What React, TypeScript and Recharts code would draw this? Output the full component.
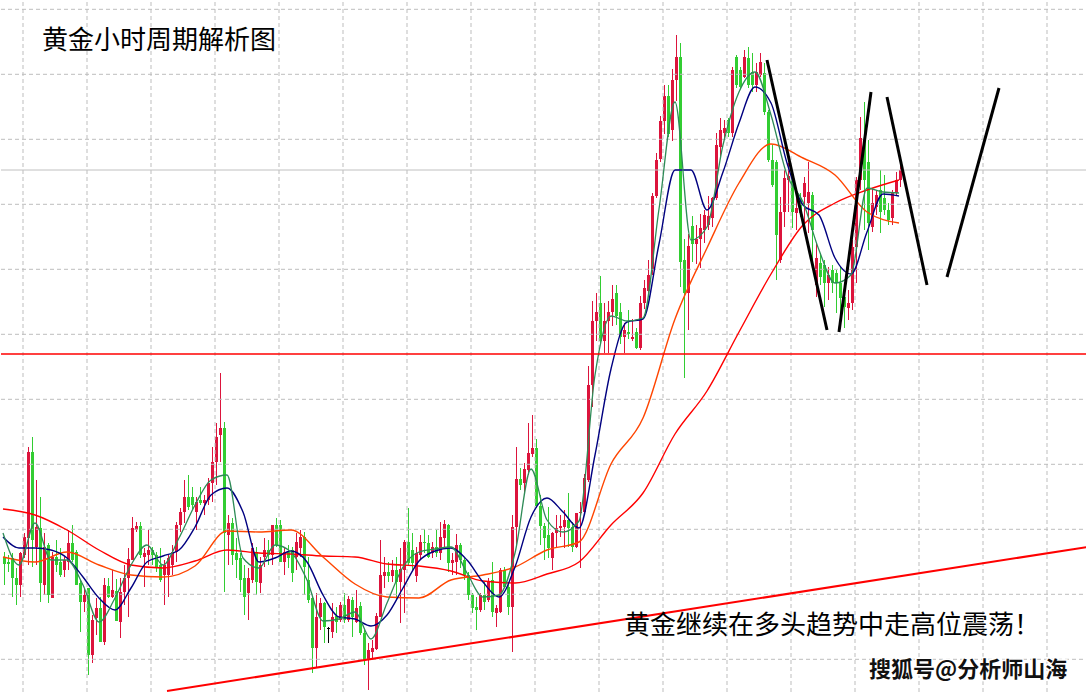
import React from "react";
import { ComposedChart, Bar, Line, XAxis, YAxis, ReferenceLine } from "recharts";

// hourly gold candles (price units, left to right)
const opens = [
  1924.3, 1923.8, 1924.2, 1922.2, 1921.5, 1924.5, 1926.2, 1934.8, 1925.3, 1927.2,
  1921.5, 1925.5, 1920.2, 1924.3, 1923.8, 1923.0, 1923.8, 1925.7, 1924.8, 1921.7,
  1919.8, 1921.2, 1914.5, 1918.2, 1919.2, 1915.8, 1921.4, 1920.3, 1920.9, 1917.8,
  1920.8, 1922.2, 1924.0, 1927.0, 1927.4, 1924.3, 1924.5, 1925.0, 1924.5, 1923.5,
  1922.5, 1922.5, 1923.5, 1924.8, 1927.5, 1928.8, 1930.3, 1930.3, 1928.8, 1930.0,
  1929.7, 1930.0, 1931.7, 1933.8, 1936.5, 1937.2, 1926.5, 1927.7, 1924.7, 1924.2,
  1922.2, 1920.7, 1922.0, 1924.8, 1921.7, 1924.3, 1925.0, 1924.5, 1927.5, 1927.5,
  1923.8, 1924.8, 1925.0, 1924.3, 1925.2, 1926.3, 1922.0, 1920.2, 1915.2, 1918.3,
  1919.7, 1917.2, 1916.8, 1918.4, 1918.0, 1919.5, 1918.0, 1920.0, 1917.8, 1919.4,
  1916.7, 1914.1, 1914.8, 1915.1, 1918.3, 1922.4, 1922.8, 1922.4, 1923.0, 1921.8,
  1923.0, 1925.8, 1925.0, 1922.4, 1924.5, 1925.8, 1925.7, 1924.7, 1925.3, 1924.7,
  1926.2, 1927.5, 1923.7, 1923.8, 1925.5, 1924.0, 1922.5, 1920.5, 1919.3, 1919.0,
  1920.5, 1920.0, 1922.0, 1918.7, 1918.8, 1923.0, 1921.3, 1919.3, 1927.3, 1932.1,
  1931.7, 1933.0, 1934.6, 1935.2, 1929.4, 1927.4, 1926.5, 1924.2, 1926.7, 1927.2,
  1927.3, 1928.0, 1927.3, 1925.3, 1928.7, 1928.8, 1932.0, 1941.5, 1947.9, 1949.7,
  1945.9, 1947.9, 1948.8, 1950.7, 1948.8, 1946.3, 1946.8, 1946.1, 1946.8, 1945.2,
  1949.7, 1950.9, 1953.1, 1960.4, 1964.1, 1967.9, 1970.4, 1967.0, 1972.0, 1974.3,
  1954.0, 1950.7, 1957.4, 1955.6, 1956.1, 1957.0, 1957.5, 1958.2, 1960.2, 1965.3,
  1966.7, 1968.0, 1966.7, 1974.3, 1973.0, 1972.3, 1974.2, 1972.8, 1971.5, 1972.5,
  1972.7, 1968.8, 1964.0, 1963.8, 1954.0, 1958.8, 1962.0, 1962.4, 1958.7, 1960.2,
  1960.3, 1959.7, 1960.5, 1951.5, 1953.7, 1953.5, 1951.7, 1953.0, 1952.7, 1951.7,
  1950.3, 1949.2, 1949.7, 1955.3, 1962.0, 1966.0, 1963.8, 1957.3, 1959.3, 1961.0,
  1960.2, 1959.0, 1958.2, 1960.7, 1962.0,
];
const highs = [
  1924.8, 1924.5, 1924.7, 1923.2, 1924.8, 1926.7, 1935.3, 1936.3, 1932.0, 1930.3,
  1926.7, 1925.7, 1924.8, 1926.0, 1925.2, 1924.3, 1927.0, 1927.5, 1925.0, 1922.0,
  1921.2, 1921.2, 1918.5, 1920.2, 1920.3, 1922.2, 1922.2, 1923.0, 1922.1, 1922.2,
  1923.5, 1925.2, 1928.3, 1927.8, 1927.8, 1925.2, 1927.0, 1925.3, 1924.8, 1925.2,
  1924.0, 1924.5, 1925.5, 1927.8, 1929.2, 1932.0, 1932.5, 1931.3, 1930.3, 1931.3,
  1930.5, 1932.2, 1935.3, 1937.7, 1942.7, 1937.8, 1928.5, 1928.2, 1926.2, 1924.7,
  1923.5, 1923.2, 1925.7, 1925.3, 1924.3, 1926.2, 1926.0, 1927.5, 1928.2, 1928.0,
  1925.3, 1925.5, 1925.3, 1926.7, 1927.0, 1926.8, 1924.3, 1920.3, 1920.7, 1920.2,
  1919.8, 1917.3, 1919.7, 1919.3, 1919.8, 1920.7, 1920.4, 1920.3, 1921.0, 1919.8,
  1917.0, 1915.7, 1916.0, 1918.7, 1926.0, 1924.3, 1923.8, 1924.0, 1924.3, 1925.2,
  1926.0, 1929.2, 1926.7, 1925.3, 1926.5, 1927.1, 1926.5, 1925.8, 1927.0, 1927.8,
  1928.0, 1927.6, 1924.7, 1926.6, 1925.7, 1924.2, 1922.8, 1920.7, 1920.3, 1920.7,
  1921.8, 1922.2, 1923.8, 1919.5, 1923.2, 1923.3, 1921.6, 1928.5, 1935.3, 1933.2,
  1933.7, 1937.7, 1938.5, 1936.1, 1930.5, 1927.7, 1929.3, 1926.8, 1928.5, 1928.5,
  1929.0, 1930.7, 1927.8, 1928.7, 1929.8, 1932.6, 1943.4, 1949.9, 1950.7, 1952.4,
  1949.7, 1949.9, 1951.5, 1951.5, 1949.7, 1947.7, 1949.0, 1948.1, 1947.2, 1950.4,
  1952.0, 1954.0, 1960.7, 1964.7, 1968.4, 1971.5, 1971.5, 1973.1, 1976.5, 1975.7,
  1956.1, 1956.6, 1958.4, 1957.5, 1958.6, 1959.0, 1960.4, 1960.3, 1966.7, 1968.2,
  1968.0, 1968.2, 1973.3, 1974.5, 1973.3, 1975.0, 1975.3, 1974.7, 1973.7, 1974.7,
  1973.7, 1969.0, 1965.5, 1964.0, 1960.3, 1963.0, 1963.7, 1963.0, 1960.5, 1960.7,
  1962.3, 1963.8, 1960.8, 1955.7, 1954.7, 1954.0, 1953.3, 1953.5, 1953.0, 1953.3,
  1951.7, 1951.0, 1956.0, 1962.3, 1968.3, 1969.8, 1966.0, 1961.2, 1961.0, 1963.0,
  1962.5, 1959.7, 1961.0, 1962.8, 1963.4,
];
const lows = [
  1921.5, 1922.8, 1920.3, 1919.5, 1920.3, 1924.2, 1923.5, 1923.3, 1923.5, 1919.8,
  1920.5, 1919.7, 1920.2, 1922.8, 1922.3, 1922.3, 1923.0, 1923.8, 1921.5, 1916.8,
  1918.8, 1912.5, 1913.7, 1916.5, 1915.8, 1915.5, 1920.2, 1920.2, 1917.9, 1916.2,
  1919.5, 1918.3, 1924.0, 1926.8, 1924.2, 1921.3, 1923.5, 1923.5, 1922.8, 1921.8,
  1919.5, 1920.3, 1922.5, 1923.8, 1926.8, 1927.7, 1929.0, 1929.0, 1927.0, 1929.5,
  1928.5, 1929.5, 1929.8, 1931.5, 1933.8, 1920.8, 1923.5, 1923.5, 1922.2, 1920.8,
  1918.5, 1918.0, 1921.7, 1920.5, 1920.7, 1923.3, 1923.5, 1923.5, 1925.3, 1923.8,
  1922.5, 1923.2, 1921.8, 1923.0, 1924.3, 1920.5, 1919.7, 1912.7, 1913.2, 1917.0,
  1915.7, 1915.7, 1916.2, 1916.7, 1917.8, 1917.7, 1917.8, 1916.3, 1917.7, 1916.5,
  1913.5, 1911.0, 1914.0, 1915.0, 1918.3, 1921.2, 1921.8, 1921.8, 1920.0, 1917.7,
  1918.7, 1923.5, 1923.0, 1921.8, 1924.0, 1924.7, 1924.2, 1924.2, 1924.3, 1924.0,
  1925.2, 1922.8, 1922.5, 1922.5, 1923.2, 1922.0, 1920.0, 1918.7, 1917.0, 1918.8,
  1919.0, 1919.8, 1918.3, 1917.3, 1918.7, 1921.2, 1918.5, 1914.8, 1925.3, 1931.0,
  1930.7, 1932.5, 1934.3, 1929.2, 1925.5, 1924.0, 1924.2, 1923.0, 1925.3, 1926.3,
  1925.2, 1925.3, 1924.8, 1925.2, 1923.2, 1928.5, 1931.8, 1939.3, 1945.9, 1945.7,
  1944.7, 1944.7, 1947.4, 1947.5, 1945.6, 1944.7, 1946.1, 1945.9, 1945.1, 1945.0,
  1949.1, 1950.4, 1952.5, 1960.2, 1963.8, 1966.6, 1966.3, 1965.9, 1969.9, 1951.3,
  1942.2, 1947.0, 1953.8, 1953.6, 1953.2, 1955.7, 1957.0, 1957.3, 1960.0, 1964.2,
  1966.0, 1966.3, 1966.3, 1971.2, 1971.2, 1972.2, 1971.2, 1970.8, 1970.8, 1972.3,
  1968.5, 1963.8, 1961.3, 1952.0, 1953.7, 1957.3, 1958.8, 1957.2, 1957.0, 1958.3,
  1957.7, 1956.7, 1954.0, 1950.3, 1951.5, 1949.3, 1950.0, 1950.7, 1948.7, 1948.3,
  1947.2, 1948.0, 1949.0, 1951.7, 1961.0, 1957.0, 1955.0, 1956.8, 1958.5, 1956.7,
  1958.5, 1957.5, 1957.5, 1960.5, 1961.3,
];
const closes = [
  1923.6, 1923.6, 1922.2, 1921.5, 1924.7, 1926.3, 1934.8, 1926.0, 1927.3, 1921.7,
  1925.3, 1920.5, 1924.3, 1923.5, 1922.5, 1924.0, 1925.7, 1924.0, 1921.5, 1919.8,
  1920.5, 1914.5, 1918.0, 1919.2, 1915.8, 1921.5, 1920.3, 1921.0, 1917.9, 1920.8,
  1922.2, 1924.1, 1927.2, 1927.4, 1924.5, 1924.7, 1925.0, 1924.5, 1923.3, 1922.0,
  1923.5, 1924.2, 1924.8, 1927.5, 1928.8, 1930.3, 1929.3, 1929.5, 1929.8, 1929.7,
  1930.0, 1931.7, 1933.8, 1936.3, 1937.2, 1926.7, 1927.7, 1924.5, 1924.0, 1922.0,
  1920.3, 1922.2, 1925.2, 1921.8, 1923.5, 1925.0, 1924.5, 1927.5, 1925.5, 1923.8,
  1924.8, 1924.2, 1922.7, 1925.8, 1926.3, 1923.3, 1920.0, 1915.2, 1918.3, 1919.7,
  1917.3, 1917.2, 1918.3, 1917.8, 1919.5, 1918.0, 1920.1, 1918.3, 1919.2, 1916.7,
  1914.0, 1915.0, 1915.2, 1918.4, 1922.5, 1922.8, 1922.4, 1923.0, 1921.8, 1923.1,
  1925.8, 1923.7, 1923.7, 1924.7, 1925.8, 1925.7, 1924.3, 1925.3, 1924.7, 1926.3,
  1927.6, 1923.7, 1924.0, 1925.5, 1924.0, 1922.5, 1920.5, 1919.2, 1919.0, 1920.5,
  1919.8, 1921.8, 1918.8, 1919.2, 1923.0, 1921.3, 1919.3, 1927.3, 1932.1, 1931.5,
  1933.1, 1934.7, 1935.2, 1929.4, 1927.4, 1926.2, 1925.2, 1926.7, 1927.2, 1927.4,
  1928.0, 1927.2, 1925.3, 1928.7, 1928.8, 1932.2, 1941.5, 1947.9, 1948.8, 1945.9,
  1947.9, 1948.8, 1950.1, 1948.4, 1946.3, 1947.0, 1946.6, 1946.3, 1945.2, 1949.7,
  1951.2, 1952.5, 1960.4, 1964.0, 1967.9, 1970.4, 1966.6, 1972.0, 1974.3, 1953.8,
  1950.7, 1955.4, 1955.6, 1956.1, 1957.2, 1958.5, 1958.4, 1960.2, 1965.5, 1967.0,
  1967.2, 1966.7, 1973.0, 1971.5, 1971.3, 1974.3, 1971.5, 1971.5, 1972.8, 1973.8,
  1968.8, 1964.0, 1961.5, 1956.5, 1958.8, 1962.2, 1962.4, 1958.8, 1959.2, 1958.7,
  1961.7, 1960.8, 1957.0, 1954.2, 1952.3, 1951.7, 1952.5, 1951.7, 1951.7, 1950.2,
  1949.3, 1949.7, 1955.3, 1962.0, 1966.2, 1962.0, 1957.7, 1959.7, 1960.5, 1958.8,
  1959.0, 1958.0, 1960.7, 1962.0, 1963.0,
];

// moving averages as drawn on the chart, one value every 4th / 8th candle
const ma5 = [
  1926.7, 1923.5, 1927.7, 1924.0, 1924.0, 1921.5, 1917.8, 1920.2, 1923.5, 1925.5,
  1923.5, 1926.2, 1929.5, 1932.0, 1932.5, 1924.2, 1923.2, 1925.5, 1924.8, 1922.0,
  1917.9, 1918.1, 1918.8, 1916.1, 1919.7, 1923.3, 1924.8, 1925.1, 1925.3, 1922.7,
  1920.3, 1920.5, 1924.7, 1933.1, 1928.0, 1926.8, 1927.9, 1942.5, 1948.4, 1947.9,
  1948.2, 1959.1, 1969.8, 1956.0, 1957.3, 1965.5, 1970.8, 1972.8, 1968.5, 1962.5,
  1959.8, 1955.0, 1951.7, 1952.5, 1961.2, 1960.8, 1960.7,
];
const ma10 = [
  1926.3, 1925.2, 1925.2, 1925.0, 1924.2, 1922.3, 1920.2, 1919.0, 1921.2, 1923.8,
  1924.4, 1925.0, 1927.3, 1930.5, 1931.2, 1928.8, 1923.8, 1924.2, 1924.9, 1923.8,
  1920.5, 1918.3, 1918.1, 1917.4, 1918.5, 1921.2, 1923.9, 1924.9, 1925.2, 1924.0,
  1921.8, 1920.3, 1923.3, 1928.3, 1930.2, 1928.8, 1927.2, 1934.5, 1943.1, 1947.8,
  1948.1, 1955.6, 1963.0, 1963.0, 1959.0, 1962.8, 1967.7, 1971.3, 1969.7, 1963.7,
  1959.5, 1958.5, 1954.2, 1952.6, 1956.8, 1960.6, 1960.4,
];
const ma30 = [
  1924.3, 1923.8, 1924.8, 1923.5, 1922.5, 1922.3, 1923.4, 1926.9, 1926.8, 1927.0,
  1924.3, 1921.6, 1920.3, 1920.2, 1922.0, 1922.5, 1923.3, 1925.0, 1925.8, 1933.6,
  1938.2, 1948.1, 1955.2, 1961.7, 1965.6, 1964.2, 1962.5, 1958.8, 1957.7,
];
const ma60 = [
  1929.1, 1928.5, 1927.0, 1925.0, 1923.5, 1923.2, 1923.9, 1925.0, 1924.7, 1924.6,
  1924.4, 1924.3, 1923.6, 1923.4, 1922.9, 1921.9, 1921.7, 1922.6, 1923.8, 1927.5,
  1930.7, 1936.6, 1940.9, 1946.8, 1952.6, 1957.5, 1959.7, 1961.0, 1962.0,
];

const SLOTS = 272; // candle slots across the full width, incl. empty room on the right
const gridPrices = [
  1979.07, 1972.57, 1966.07, 1959.57, 1953.07, 1946.57, 1940.07, 1933.57, 1927.07,
  1920.57, 1914.07,
];
const gridSlots = [5, 21, 37, 53, 69, 85, 101, 117, 133, 149, 165, 181, 197, 213, 229, 245, 261];

const supportLevel = 1944.6;
const lastPrice = 1963.0;
const trendLine = [
  { x: 41, y: 1910.9 },
  { x: 271, y: 1925.3 },
];
const sketchLines = [
  [{ x: 191, y: 1974.0 }, { x: 206, y: 1947.0 }],
  [{ x: 209, y: 1946.8 }, { x: 217, y: 1970.8 }],
  [{ x: 221, y: 1970.3 }, { x: 231, y: 1951.5 }],
  [{ x: 236, y: 1952.3 }, { x: 249, y: 1971.2 }],
];

const UP = "#dc143c";
const DOWN = "#32cd32";
const FONT = "'Noto Sans CJK SC', 'Noto Sans', sans-serif";

const rows = Array.from({ length: SLOTS }, (_, i) => {
  const row: any = { i };
  if (i < opens.length) {
    row.o = opens[i];
    row.h = highs[i];
    row.l = lows[i];
    row.c = closes[i];
  }
  if (i % 4 === 0 && ma5[i / 4] !== undefined) row.ma5 = ma5[i / 4];
  if (i % 4 === 0 && ma10[i / 4] !== undefined) row.ma10 = ma10[i / 4];
  if (i % 8 === 0 && ma30[i / 8] !== undefined) row.ma30 = ma30[i / 8];
  if (i % 8 === 0 && ma60[i / 8] !== undefined) row.ma60 = ma60[i / 8];
  return row;
});

const Candle = (props: any) => {
  const { x, y, width, height, payload } = props;
  if (!payload || payload.o == null || !isFinite(y) || !isFinite(height)) return null;
  const { o, h, l, c } = payload;
  const top = Math.min(y, y + height);
  const span = Math.abs(height);
  const ratio = h === l ? 0 : span / (h - l);
  const toY = (v: number) => top + (h - v) * ratio;
  const cx = Math.round(x + width / 2);
  const color = c > o ? UP : c < o ? DOWN : "#000";
  const bTop = Math.round(toY(Math.max(o, c)));
  const bBot = Math.round(toY(Math.min(o, c)));
  return (
    <g shapeRendering="crispEdges">
      <line x1={cx + 0.5} x2={cx + 0.5} y1={Math.round(top)} y2={Math.round(top + span)} stroke={color} strokeWidth={1} />
      <rect x={cx - 1} y={bTop} width={3} height={Math.max(1, bBot - bTop)} fill={color} />
    </g>
  );
};

export default function App() {
  return (
    <div
      style={{
        position: "absolute",
        left: 0,
        top: 0,
        width: 1086,
        height: 692,
        overflow: "hidden",
        background: "#fff",
      }}
    >
      <ComposedChart
        width={1089}
        height={692}
        data={rows}
        margin={{ top: 0, right: 0, bottom: 0, left: 1 }}
        barSize={3}
      >
        <XAxis dataKey="i" type="category" hide />
        <YAxis type="number" domain={[1910.8, 1980]} allowDataOverflow hide />

        {gridPrices.map((p) => (
          <ReferenceLine key={"h" + p} y={p} stroke="#bdbdbd" strokeDasharray="4 3" />
        ))}
        {gridSlots.map((s) => (
          <ReferenceLine key={"v" + s} x={s} stroke="#bdbdbd" strokeDasharray="4 3" />
        ))}
        <ReferenceLine y={lastPrice} stroke="#c0c0c0" strokeWidth={1} />

        <Bar
          dataKey={(d: any) => (d.o == null ? null : [d.l, d.h])}
          shape={<Candle />}
          isAnimationActive={false}
        />

        <Line dataKey="ma60" type="monotone" stroke="#ff0000" strokeWidth={1.4} dot={false} connectNulls isAnimationActive={false} />
        <Line dataKey="ma30" type="monotone" stroke="#ff4500" strokeWidth={1.4} dot={false} connectNulls isAnimationActive={false} />
        <Line dataKey="ma10" type="monotone" stroke="#000080" strokeWidth={1.4} dot={false} connectNulls isAnimationActive={false} />
        <Line dataKey="ma5" type="monotone" stroke="#2e8b57" strokeWidth={1.3} dot={false} connectNulls isAnimationActive={false} />

        <ReferenceLine y={supportLevel} stroke="#ff0000" strokeWidth={1.5} />
        <ReferenceLine segment={trendLine} stroke="#ff0000" strokeWidth={2} />
        {sketchLines.map((seg, k) => (
          <ReferenceLine key={"s" + k} segment={seg} stroke="#000" strokeWidth={3} />
        ))}
      </ComposedChart>

      <svg
        width={1086}
        height={692}
        style={{ position: "absolute", left: 0, top: 0, pointerEvents: "none" }}
      >
        <text x={42} y={49} fontSize={26} fontFamily={FONT} fill="#000">
          黄金小时周期解析图
        </text>
        <text x={624} y={634} fontSize={26} fontFamily={FONT} fill="#000">
          黄金继续在多头趋势中走高位震荡！
        </text>
        <text
          x={869}
          y={677}
          fontSize={22}
          fontWeight="bold"
          fontFamily={FONT}
          fill="#111"
          stroke="#fff"
          strokeWidth={3}
          paintOrder="stroke"
        >
          搜狐号@分析师山海
        </text>
      </svg>
    </div>
  );
}
